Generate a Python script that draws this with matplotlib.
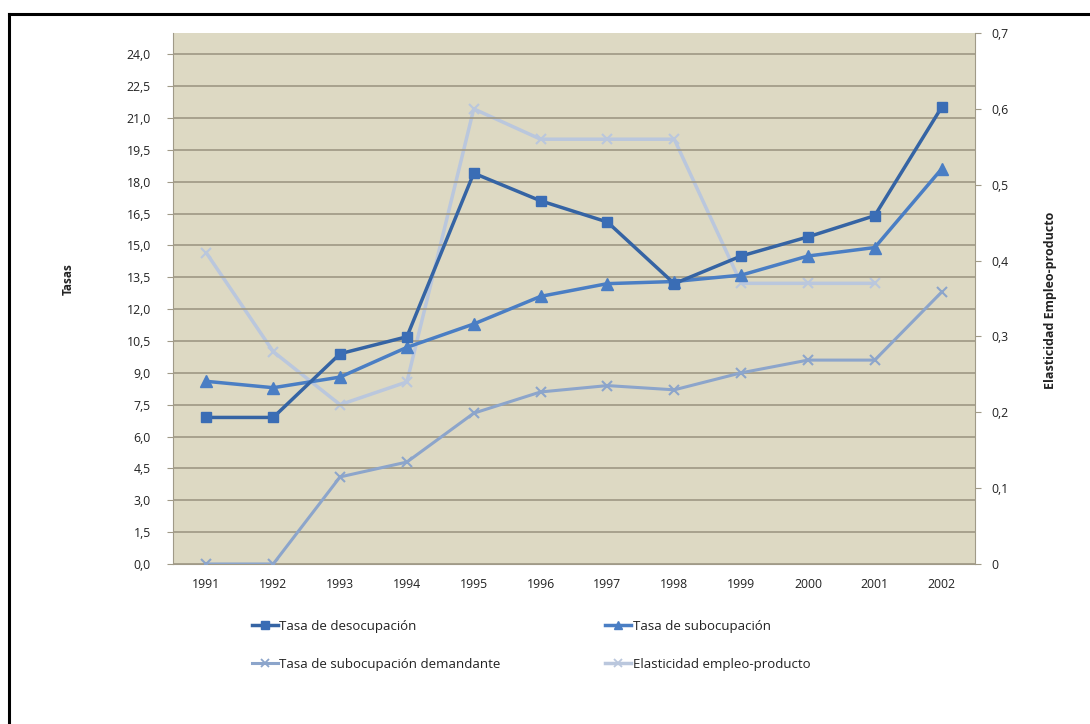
import numpy as np
import matplotlib
matplotlib.use("Agg")
import matplotlib.pyplot as plt
from matplotlib.lines import Line2D
from matplotlib.ticker import FuncFormatter

plt.rcParams["font.family"] = ["Open Sans", "DejaVu Sans"]

years = ["1991", "1992", "1993", "1994", "1995", "1996",
         "1997", "1998", "1999", "2000", "2001", "2002"]
desocupacion = [6.9, 6.9, 9.9, 10.7, 18.4, 17.1, 16.1, 13.2, 14.5, 15.4, 16.4, 21.5]
subocupacion = [8.6, 8.3, 8.8, 10.2, 11.3, 12.6, 13.2, 13.3, 13.6, 14.5, 14.9, 18.6]
sub_demandante = [0.0, 0.0, 4.1, 4.8, 7.1, 8.1, 8.4, 8.2, 9.0, 9.6, 9.6, 12.8]
elasticidad = [0.41, 0.28, 0.21, 0.24, 0.60, 0.56, 0.56, 0.56, 0.37, 0.37, 0.37, np.nan]

BG = "#DDD9C3"
GRID = "#9E9784"
SPINE = "#A09A88"
TEXT = "#222222"
C_DES = "#3564A4"
C_SUB = "#4A7EC4"
C_DEM = "#8CA5CB"
C_ELA = "#BAC7DD"

fig = plt.figure(figsize=(10.9, 7.24), dpi=100)
ax = fig.add_axes([0.1587, 0.221, 0.7358, 0.7334])
ax2 = ax.twinx()

x = np.arange(len(years))

ax.plot(x, sub_demandante, color=C_DEM, lw=2.2, marker="x", ms=7, mew=1.5, zorder=3)
ax.plot(x, subocupacion, color=C_SUB, lw=2.5, marker="^", ms=8, zorder=4)
ax.plot(x, desocupacion, color=C_DES, lw=2.5, marker="s", ms=7.5,
        mfc="#3A6DB5", mec="#3A6DB5", zorder=5)
ax2.plot(x, elasticidad, color=C_ELA, lw=2.5, marker="x", ms=7, mew=1.5, zorder=2)

# tan background sits on the secondary axes, which is drawn first
ax.patch.set_visible(False)
ax2.patch.set_visible(True)
ax2.patch.set_facecolor(BG)
ax.set_zorder(ax2.get_zorder() + 1)

ax.set_xlim(-0.5, len(years) - 0.5)
ax.set_ylim(0, 25.0)
ax.set_yticks(np.arange(0, 24.01, 1.5))
ax.yaxis.set_major_formatter(FuncFormatter(lambda v, p: f"{v:.1f}".replace(".", ",")))
ax.set_xticks(x)
ax.set_xticklabels(years)
ax.grid(axis="y", color=GRID, lw=1.2)
ax.set_axisbelow(True)

ax2.set_ylim(0, 0.7)
ax2.set_yticks(np.arange(0, 0.71, 0.1))
ax2.yaxis.set_major_formatter(FuncFormatter(
    lambda v, p: "0" if abs(v) < 1e-9 else f"{v:.1f}".replace(".", ",")))

for a in (ax, ax2):
    for s in a.spines.values():
        s.set_visible(False)
    a.tick_params(labelsize=8.8, colors=TEXT, color=SPINE, length=4)
ax.spines["left"].set_visible(True)
ax.spines["left"].set_color(SPINE)
ax.spines["bottom"].set_visible(True)
ax.spines["bottom"].set_color(SPINE)
ax2.spines["right"].set_visible(True)
ax2.spines["right"].set_color(SPINE)
ax.tick_params(axis="x", length=0, pad=10)
ax.tick_params(axis="y", pad=12)
ax2.tick_params(axis="y", pad=8)

fig.text(0.063, 0.615, "Tasas", rotation=90, fontsize=8.5, fontweight="bold",
         ha="center", va="center", color=TEXT)
fig.text(0.964, 0.585, "Elasticidad Empleo-producto", rotation=90, fontsize=9,
         fontweight="bold", ha="center", va="center", color=TEXT)

handles = [
    Line2D([], [], color=C_DES, lw=2.5, marker="s", ms=6, mfc="#3A6DB5", mec="#3A6DB5"),
    Line2D([], [], color=C_DEM, lw=2.2, marker="x", ms=6, mew=1.3),
    Line2D([], [], color=C_SUB, lw=2.5, marker="^", ms=6),
    Line2D([], [], color=C_ELA, lw=2.5, marker="x", ms=6, mew=1.3),
]
labels = ["Tasa de desocupación", "Tasa de subocupación demandante",
          "Tasa de subocupación", "Elasticidad empleo-producto"]
fig.legend(handles, labels, ncol=2, loc="upper left", bbox_to_anchor=(0.220, 0.160),
           frameon=False, fontsize=9.5, handlelength=2.0, handletextpad=0.1,
           columnspacing=7.9, labelspacing=1.9, labelcolor=TEXT)

# frame lines of the surrounding box
fig.add_artist(Line2D([9 / 1090, 1.0], [1 - 14 / 724, 1 - 14 / 724],
                      color="black", lw=2.2, transform=fig.transFigure))
fig.add_artist(Line2D([9 / 1090, 9 / 1090], [0.0, 1 - 14 / 724],
                      color="black", lw=2.2, transform=fig.transFigure))

fig.savefig("out.png", dpi=100, facecolor="white")
